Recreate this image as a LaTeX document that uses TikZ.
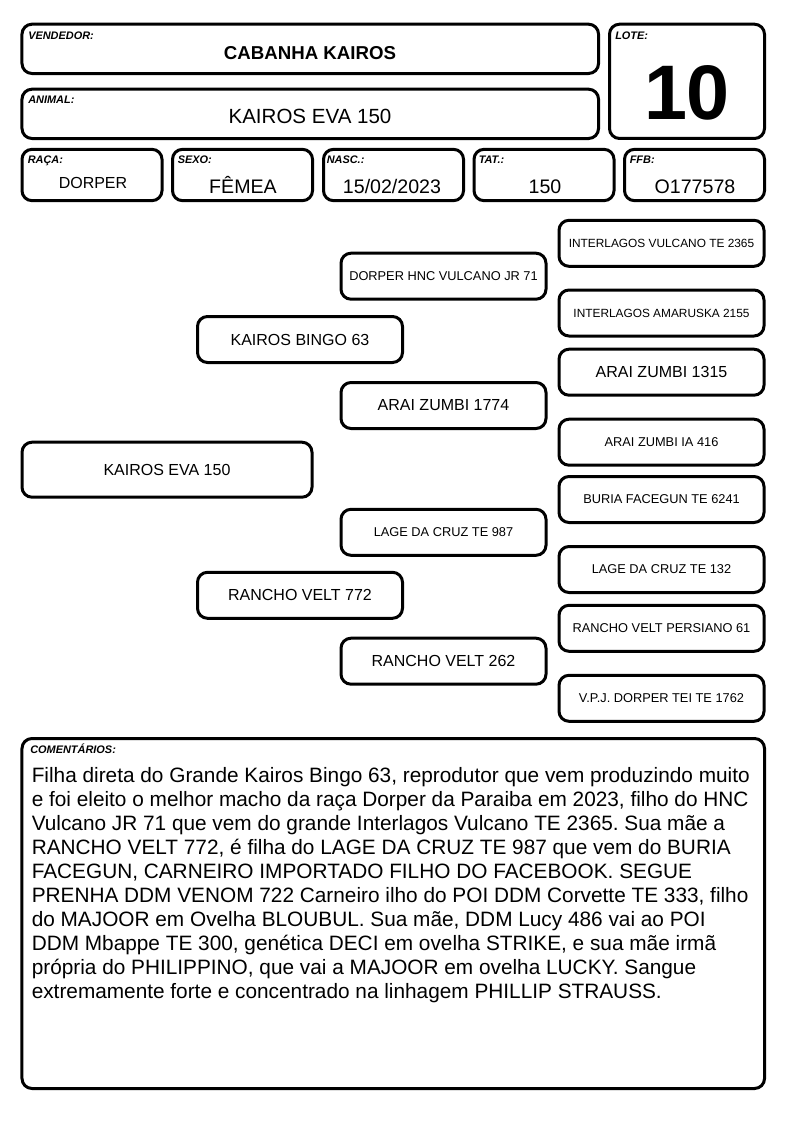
\documentclass[tikz,border=0pt]{standalone}
\usepackage{fontspec}
\setmainfont{Liberation Sans}
\frenchspacing
\tikzstyle{box}=[
	draw=black,
	line width=2.25pt,
	rounded corners=7.5pt,
	inner sep=0pt
]
\tikzstyle{tag}=[
	anchor=base west,
	inner sep=0pt,
	font=\fontsize{8.2}{9}\selectfont\bfseries\itshape
]
\tikzstyle{val}=[
	anchor=base,
	inner sep=0pt,
	font=\fontsize{14.7}{16}\selectfont
]
\tikzstyle{hbox}=[
	box,
	minimum width=105pt,
	minimum height=38.5pt
]
\tikzstyle{pbox}=[
	box,
	minimum width=153.75pt,
	minimum height=34.5pt
]
\tikzstyle{pbig}=[
	pbox,
	font=\fontsize{12}{14}\selectfont
]
\tikzstyle{psmall}=[
	pbox,
	font=\fontsize{9.6}{11}\selectfont
]

\begin{document}
\begin{tikzpicture}[x=0.75pt,y=-0.75pt]
\fill[white] (0,0) rectangle (794,1123);
\useasboundingbox (0,0) rectangle (794,1123);

% header
\node[box, minimum width=432.4pt, minimum height=37pt] (vend) at (310.25,48.85) {};
\node[box, minimum width=432.4pt, minimum height=37pt] (animal) at (310.25,113.85) {};
\node[box, minimum width=116.25pt, minimum height=85.7pt] (lote) at (687,81.35) {};
\node[hbox] (raca) at (92,175) {};
\node[hbox] (sexo) at (242.5,175) {};
\node[hbox] (nasc) at (393.5,175) {};
\node[hbox] (tat) at (544,175) {};
\node[hbox] (ffb) at (694.5,175) {};

\node[tag] (vendt) at (28,39.3) {VENDEDOR:};
\node[tag] (animalt) at (28,103.5) {ANIMAL:};
\node[tag] (lotet) at (615,39.3) {LOTE:};
\node[tag] (racat) at (27.5,164) {RAÇA:};
\node[tag] (sexot) at (177.5,164) {SEXO:};
\node[tag] (nasct) at (326.5,164) {NASC.:};
\node[tag] (tatt) at (478.5,164) {TAT.:};
\node[tag] (ffbt) at (629.5,164) {FFB:};

\node[val, font=\fontsize{14}{16}\selectfont\bfseries] (vendv) at (310,60) {CABANHA KAIROS};
\node[val, font=\fontsize{15.4}{17}\selectfont] (animalv) at (310,123.3) {KAIROS EVA 150};
\node[val, font=\fontsize{58}{60}\selectfont\bfseries] (lotev) at (687,119.5) {10};
\node[val, font=\fontsize{12}{14}\selectfont] (racav) at (93,188.7) {DORPER};
\node[val] (sexov) at (243,193.3) {FÊMEA};
\node[val] (nascv) at (392,193.3) {15/02/2023};
\node[val] (tatv) at (545,193.3) {150};
\node[val] (ffbv) at (695,193.3) {O177578};

% pedigree
\node[box, minimum width=217.5pt, minimum height=41.25pt, font=\fontsize{12}{14}\selectfont] (1) at (167,469.7) {KAIROS EVA 150};

\node[pbig] (2) at (300,339.5) {KAIROS BINGO 63};
\node[pbig] (3) at (300,595.3) {RANCHO VELT 772};

\node[psmall] (4) at (443.5,276.2) {DORPER HNC VULCANO JR 71};
\node[pbig] (5) at (443.5,405.5) {ARAI ZUMBI 1774};
\node[psmall] (6) at (443.5,532.3) {LAGE DA CRUZ TE 987};
\node[pbig] (7) at (443.5,661.2) {RANCHO VELT 262};

\node[psmall, font=\fontsize{8.9}{10}\selectfont] (8) at (661.5,243.3) {INTERLAGOS VULCANO TE 2365};
\node[psmall, font=\fontsize{8.9}{10}\selectfont] (9) at (661.5,313) {INTERLAGOS AMARUSKA 2155};
\node[pbig] (10) at (661.5,372.2) {ARAI ZUMBI 1315};
\node[psmall] (11) at (661.5,442.2) {ARAI ZUMBI IA 416};
\node[psmall] (12) at (661.5,499.5) {BURIA FACEGUN TE 6241};
\node[psmall] (13) at (661.5,569.5) {LAGE DA CRUZ TE 132};
\node[psmall] (14) at (661.5,628.3) {RANCHO VELT PERSIANO 61};
\node[psmall] (15) at (661.5,698.3) {V.P.J. DORPER TEI TE 1762};

% comments
\node[box, minimum width=556.9pt, minimum height=262.5pt] (coment) at (393.25,913.5) {};
\node[tag] (comentt) at (30,753) {COMENTÁRIOS:};
\node[anchor=north west, inner sep=0pt, align=left, font=\fontsize{15.6}{18}\selectfont] (comentv) at (31.5,767)
{Filha direta do Grande Kairos Bingo 63, reprodutor que vem produzindo muito\\
e foi eleito o melhor macho da raça Dorper da Paraiba em 2023, filho do HNC\\
Vulcano JR 71 que vem do grande Interlagos Vulcano TE 2365. Sua mãe a\\
RANCHO VELT 772, é filha do LAGE DA CRUZ TE 987 que vem do BURIA\\
FACEGUN, CARNEIRO IMPORTADO FILHO DO FACEBOOK. SEGUE\\
PRENHA DDM VENOM 722 Carneiro ilho do POI DDM Corvette TE 333, filho\\
do MAJOOR em Ovelha BLOUBUL. Sua mãe, DDM Lucy 486 vai ao POI\\
DDM Mbappe TE 300, genética DECI em ovelha STRIKE, e sua mãe irmã\\
própria do PHILIPPINO, que vai a MAJOOR em ovelha LUCKY. Sangue\\
extremamente forte e concentrado na linhagem PHILLIP STRAUSS.};
\end{tikzpicture}
\end{document}
